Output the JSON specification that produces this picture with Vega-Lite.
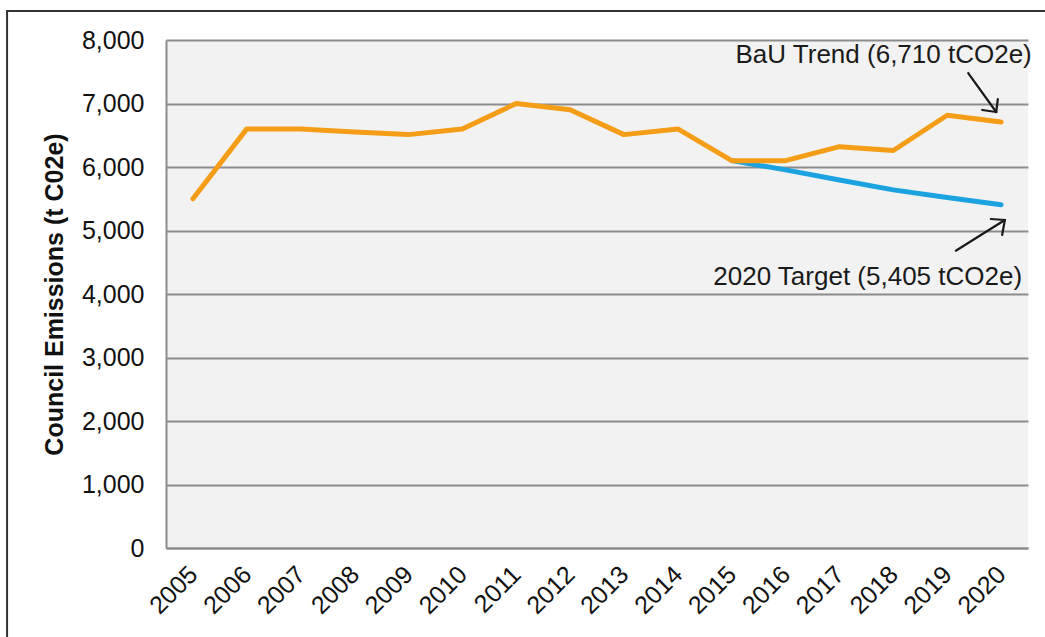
{
  "$schema": "https://vega.github.io/schema/vega-lite/v6.json",
  "width": 862,
  "height": 508,
  "autosize": {"type": "none"},
  "padding": {"left": 166, "top": 40, "right": 17, "bottom": 89},
  "background": "white",
  "config": {
    "view": {"fill": "#f2f2f2", "stroke": null},
    "font": "Liberation Sans",
    "axis": {"labelFont": "Liberation Sans", "titleFont": "Liberation Sans", "labelColor": "#111", "titleColor": "#111"}
  },
  "datasets": {
    "emissions": [
      {"year": 2005, "series": "BaU", "value": 5500},
      {"year": 2006, "series": "BaU", "value": 6600},
      {"year": 2007, "series": "BaU", "value": 6600},
      {"year": 2008, "series": "BaU", "value": 6550},
      {"year": 2009, "series": "BaU", "value": 6510},
      {"year": 2010, "series": "BaU", "value": 6600},
      {"year": 2011, "series": "BaU", "value": 7000},
      {"year": 2012, "series": "BaU", "value": 6900},
      {"year": 2013, "series": "BaU", "value": 6510},
      {"year": 2014, "series": "BaU", "value": 6600},
      {"year": 2015, "series": "BaU", "value": 6100},
      {"year": 2016, "series": "BaU", "value": 6100},
      {"year": 2017, "series": "BaU", "value": 6320},
      {"year": 2018, "series": "BaU", "value": 6260},
      {"year": 2019, "series": "BaU", "value": 6815},
      {"year": 2020, "series": "BaU", "value": 6710},
      {"year": 2015, "series": "Target", "value": 6100},
      {"year": 2016, "series": "Target", "value": 5955},
      {"year": 2017, "series": "Target", "value": 5795},
      {"year": 2018, "series": "Target", "value": 5640},
      {"year": 2019, "series": "Target", "value": 5520},
      {"year": 2020, "series": "Target", "value": 5405}
    ],
    "arrows": [
      {"x1": 2019.39, "y1": 7480, "x2": 2019.91, "y2": 6866},
      {"x1": 2019.65, "y1": 6898, "x2": 2019.91, "y2": 6866},
      {"x1": 2019.94, "y1": 7071, "x2": 2019.91, "y2": 6866},
      {"x1": 2019.16, "y1": 4682, "x2": 2020.07, "y2": 5165},
      {"x1": 2019.81, "y1": 5181, "x2": 2020.07, "y2": 5165},
      {"x1": 2020.02, "y1": 4929, "x2": 2020.07, "y2": 5165}
    ],
    "labels": [
      {"x": 2020.57, "y": 7764, "text": "BaU Trend (6,710 tCO2e)"},
      {"x": 2020.39, "y": 4268, "text": "2020 Target (5,405 tCO2e)"}
    ],
    "frame": [
      {"x1": 2001.55, "x2": 2030, "y1": 8457, "y2": -3000}
    ]
  },
  "layer": [
    {
      "data": {"name": "emissions"},
      "transform": [{"filter": "datum.series === 'Target'"}],
      "mark": {"type": "line", "color": "#1aa3e0", "strokeWidth": 5, "strokeCap": "round", "strokeJoin": "round"},
      "encoding": {
        "x": {
          "field": "year", "type": "quantitative",
          "scale": {"domain": [2004.5, 2020.5], "nice": false, "zero": false},
          "axis": {
            "values": [2005, 2006, 2007, 2008, 2009, 2010, 2011, 2012, 2013, 2014, 2015, 2016, 2017, 2018, 2019, 2020],
            "format": "d", "title": null, "grid": false, "ticks": false,
            "domainColor": "#8c8c8c", "domainWidth": 2,
            "labelAngle": -45, "labelAlign": "right", "labelBaseline": "middle",
            "labelFontSize": 25, "labelPadding": 22, "labelOverlap": false, "labelFlush": false
          }
        },
        "y": {
          "field": "value", "type": "quantitative",
          "scale": {"domain": [0, 8000], "nice": false},
          "axis": {
            "values": [0, 1000, 2000, 3000, 4000, 5000, 6000, 7000, 8000],
            "format": ",.0f", "title": "Council Emissions (t C02e)",
            "titleFontSize": 25, "titleFontWeight": "bold", "titlePadding": 14,
            "labelFontSize": 25, "labelPadding": 22, "ticks": false,
            "gridColor": "#8c8c8c", "gridWidth": 1.8,
            "domainColor": "#8c8c8c", "domainWidth": 2
          }
        }
      }
    },
    {
      "data": {"name": "emissions"},
      "transform": [{"filter": "datum.series === 'BaU'"}],
      "mark": {"type": "line", "color": "#f59d16", "strokeWidth": 5, "strokeCap": "round", "strokeJoin": "round"},
      "encoding": {
        "x": {"field": "year", "type": "quantitative"},
        "y": {"field": "value", "type": "quantitative"}
      }
    },
    {
      "data": {"name": "arrows"},
      "mark": {"type": "rule", "color": "#1a1a1a", "strokeWidth": 2.2, "strokeCap": "round", "clip": false},
      "encoding": {
        "x": {"field": "x1", "type": "quantitative"},
        "y": {"field": "y1", "type": "quantitative"},
        "x2": {"field": "x2"},
        "y2": {"field": "y2"}
      }
    },
    {
      "data": {"name": "labels"},
      "mark": {"type": "text", "align": "right", "baseline": "middle", "fontSize": 26, "color": "#1a1a1a", "font": "Liberation Sans", "clip": false},
      "encoding": {
        "x": {"field": "x", "type": "quantitative"},
        "y": {"field": "y", "type": "quantitative"},
        "text": {"field": "text"}
      }
    },
    {
      "data": {"name": "frame"},
      "mark": {"type": "rect", "fill": null, "stroke": "#333333", "strokeWidth": 2, "clip": false},
      "encoding": {
        "x": {"field": "x1", "type": "quantitative"},
        "x2": {"field": "x2"},
        "y": {"field": "y1", "type": "quantitative"},
        "y2": {"field": "y2"}
      }
    }
  ]
}
